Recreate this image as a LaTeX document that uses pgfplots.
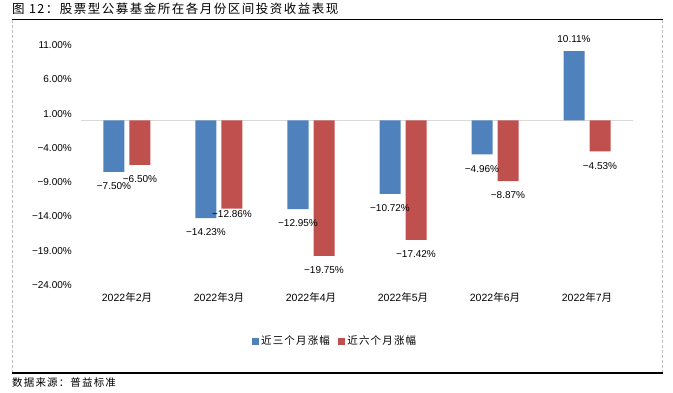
\documentclass[border=0pt]{standalone}
\usepackage{fontspec}
\setmainfont{Liberation Sans}
\newfontfamily\cjk{Noto Sans CJK SC}
\newfontfamily\cjksp[LetterSpace=11]{Noto Sans CJK SC}
\newfontfamily\cjktitle[LetterSpace=12]{Noto Sans CJK SC}
\usepackage{pgfplots}
\pgfplotsset{compat=1.18}
\definecolor{sblue}{HTML}{4F81BD}
\definecolor{sred}{HTML}{C0504D}
\definecolor{zline}{HTML}{D9D9D9}
\definecolor{framec}{HTML}{BFBFBF}
\newcommand\lblA{\raisebox{26.2pt}[\height][\depth]{10.11\%}}
\newcommand\lblB{\raisebox{8.3pt}[\height][\depth]{−12.86\%}}
\begin{document}
\begin{tikzpicture}
\path[use as bounding box] (0,0) rectangle (673pt,393pt);
\draw[framec, line width=0.8pt, dash pattern=on 3pt off 2pt] (12.7pt,20pt) -- (12.7pt,373.5pt) (662pt,20pt) -- (662pt,373.5pt);
\draw[black, line width=1.2pt] (12pt,373.5pt) -- (662.5pt,373.5pt);
\draw[black, line width=1.2pt] (12pt,20pt) -- (662.5pt,20pt);
\node[anchor=west, inner sep=0pt, font=\fontsize{12.5}{14}\cjktitle] at (12pt,384pt) {图 12：股票型公募基金所在各月份区间投资收益表现};
\node[anchor=west, inner sep=0pt, font=\fontsize{10.5}{12}\cjksp] at (12pt,10pt) {数据来源：普益标准};
\begin{axis}[
  at={(81pt,108pt)}, anchor=south west, scale only axis,
  width=552pt, height=240pt,
  xmin=-0.5, xmax=5.5, ymin=-24, ymax=11,
  axis line style={draw=none}, tick style={draw=none}, major tick length=0pt,
  ytick={-24,-19,-14,-9,-4,1,6,11},
  yticklabels={−24.00\%,−19.00\%,−14.00\%,−9.00\%,−4.00\%,1.00\%,6.00\%,11.00\%},
  yticklabel style={font=\fontsize{10}{12}\selectfont, xshift=-5.7pt},
  xtick={0,1,2,3,4,5},
  xticklabels={2022{\cjk 年}2{\cjk 月},2022{\cjk 年}3{\cjk 月},2022{\cjk 年}4{\cjk 月},2022{\cjk 年}5{\cjk 月},2022{\cjk 年}6{\cjk 月},2022{\cjk 年}7{\cjk 月}},
  xticklabel style={font=\fontsize{10.5}{12}\selectfont, yshift=-4.3pt},
  ybar=5pt, bar width=21pt,
  nodes near coords, point meta=explicit symbolic,
  every node near coord/.append style={font=\fontsize{10}{12}\selectfont, inner ysep=10.5pt, inner xsep=0pt, text=black, anchor=north},
  legend style={at={(axis description cs:0.46,-0.2346)}, anchor=center, draw=none, fill=none,
    legend columns=2, font=\fontsize{10.5}{12}\cjksp,
    /tikz/every even column/.append style={column sep=6pt}},
  legend image code/.code={\fill[#1] (0pt,-3.75pt) rectangle (7.5pt,3.75pt);},
  clip=false,
]
\draw[zline, line width=0.8pt] (axis cs:-0.5,0) -- (axis cs:5.5,0);
\addplot[draw=none, fill=sblue] coordinates {
  (0,-7.50) [−7.50\%]
  (1,-14.23) [−14.23\%]
  (2,-12.95) [−12.95\%]
  (3,-10.72) [−10.72\%]
  (4,-4.96) [−4.96\%]
  (5,10.11) [\lblA]
};
\addlegendentry{近三个月涨幅}
\addplot[draw=none, fill=sred] coordinates {
  (0,-6.50) [−6.50\%]
  (1,-12.86) [\lblB]
  (2,-19.75) [−19.75\%]
  (3,-17.42) [−17.42\%]
  (4,-8.87) [−8.87\%]
  (5,-4.53) [−4.53\%]
};
\addlegendentry{近六个月涨幅}
\end{axis}
\end{tikzpicture}
\end{document}
